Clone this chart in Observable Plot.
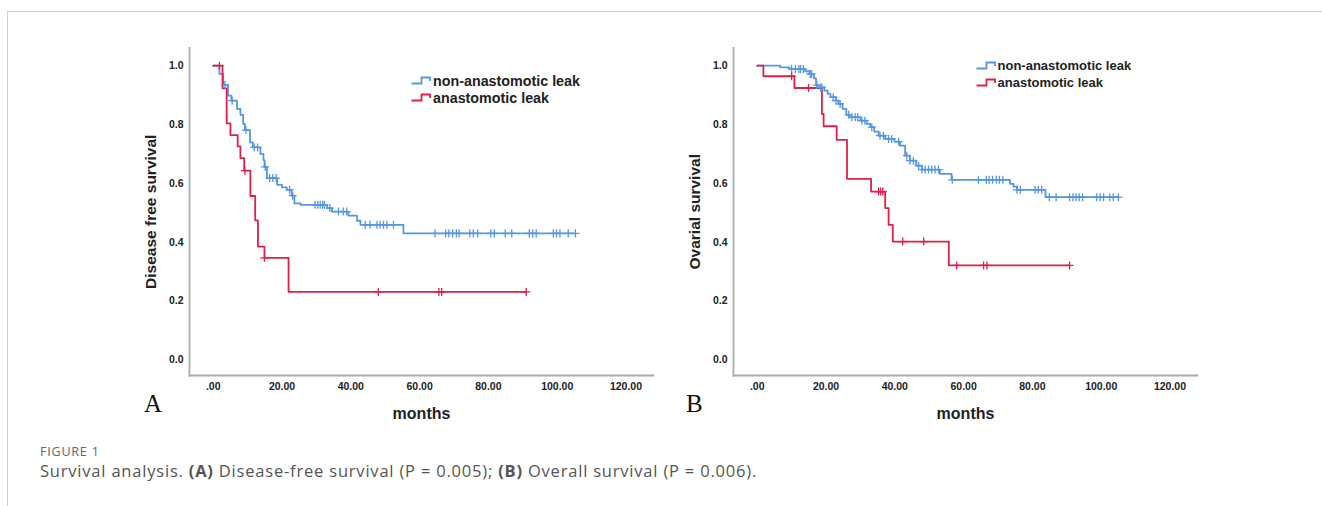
<!DOCTYPE html>
<html><head><meta charset="utf-8">
<script src="https://cdn.jsdelivr.net/npm/d3@7"></script>
<script src="https://cdn.jsdelivr.net/npm/@observablehq/plot@0.6"></script>
<style>
body{margin:0;background:#fff;}
#root{position:relative;width:1322px;height:506px;overflow:hidden;font-family:"Liberation Sans",Arial,sans-serif;}
#card{position:absolute;left:7px;top:11px;right:-2px;bottom:-2px;border-top:1px solid #cfcfcf;border-left:1px solid #cfcfcf;}
.panel{position:absolute;top:30px;}
.letter{position:absolute;font-family:"Liberation Serif","DejaVu Serif",serif;font-size:25px;color:#111;line-height:1;}
.legend{position:absolute;font-weight:bold;color:#222;font-family:"Liberation Sans",Arial,sans-serif;}
.legend div{display:flex;align-items:center;white-space:nowrap;}
.legend svg{margin-right:2px;flex:none;}
#fig{position:absolute;left:40px;top:443px;font-family:"Open Sans",sans-serif;font-size:12.5px;letter-spacing:0.8px;color:#666;}
#cap{position:absolute;left:40px;top:459px;font-family:"Open Sans",sans-serif;font-size:16.5px;letter-spacing:0.8px;color:#555;white-space:nowrap;}
</style></head>
<body>
<div id="root">
  <div id="card"></div>
  <div id="panelA" class="panel" style="left:95px"></div>
  <div id="panelB" class="panel" style="left:639px"></div>
  <div class="letter" style="left:144px;top:391px">A</div>
  <div class="letter" style="left:686px;top:391px">B</div>
  <div id="legendA" class="legend" style="left:411px;top:72.5px;font-size:14.3px"></div>
  <div id="legendB" class="legend" style="left:975.5px;top:57.5px;font-size:13px"></div>
  <div id="fig">FIGURE 1</div>
  <div id="cap">Survival analysis. <b>(A)</b> Disease-free survival (P = 0.005); <b>(B)</b> Overall survival (P = 0.006).</div>
</div>
<script>
// ---- categories / labels ----
const groups = ["non-anastomotic leak", "anastomotic leak"];
const groupColors = ["#5597e6", "#e0204a"];
const xTicks = [0, 20, 40, 60, 80, 100, 120];
const xTickLabels = [".00", "20.00", "40.00", "60.00", "80.00", "100.00", "120.00"];
const yTicks = [0, 0.2, 0.4, 0.6, 0.8, 1.0];
const yTickLabels = ["0.0", "0.2", "0.4", "0.6", "0.8", "1.0"];
const xDomain = [-6.9, 128];
const yDomain = [-0.053, 1.06];
const xTitle = "months";
const yTitleA = "Disease free survival";
const yTitleB = "Ovarial survival";

// ---- Panel A: disease-free survival ----
const dfsNonLeakTime = [0, 1.8, 2.9, 4.3, 5.3, 6.9, 7.9, 8.7, 9.2, 10.7, 11.5, 13.7, 14.6, 14.9, 15.6, 18.6, 20.0, 21.4, 22.8, 23.6, 25.4, 33.1, 34.5, 39.3, 41.8, 42.8, 55.3];
const dfsNonLeakSurv = [1, 0.972, 0.935, 0.898, 0.881, 0.853, 0.833, 0.802, 0.781, 0.739, 0.722, 0.700, 0.679, 0.656, 0.618, 0.595, 0.586, 0.578, 0.558, 0.532, 0.527, 0.516, 0.504, 0.490, 0.473, 0.459, 0.430];
const dfsNonLeakCensor = [3.4, 5.5, 9.5, 11.9, 12.9, 15.1, 16.4, 17.3, 18.3, 22.2, 23.1, 29.6, 30.4, 31.1, 31.8, 32.3, 33.9, 36.4, 37.8, 38.8, 44.2, 45.6, 47.6, 48.5, 49.5, 50.5, 52.4, 64.5, 67.6, 68.5, 69.6, 70.7, 71.5, 74.6, 75.6, 76.9, 80.7, 81.7, 84.9, 86.8, 91.9, 92.9, 93.9, 98.9, 99.8, 100.8, 103.2, 105.3];

const dfsLeakTime = [0, 2.7, 3.9, 5.0, 7.1, 7.9, 9.0, 10.8, 12.2, 13.0, 14.9, 21.9];
const dfsLeakSurv = [1, 0.923, 0.804, 0.764, 0.726, 0.686, 0.643, 0.557, 0.474, 0.385, 0.347, 0.231];
const dfsLeakCensor = [1.8, 9.2, 14.9, 48.0, 65.6, 66.4, 91.0];

// ---- Panel B: overall survival ----
const osNonLeakTime = [0, 6.7, 9.4, 13.9, 15.2, 16.5, 17.1, 17.8, 19.5, 20.5, 21.3, 22.9, 23.6, 24.8, 25.9, 26.9, 30.0, 31.8, 32.9, 34.0, 35.3, 37.2, 39.9, 41.5, 43.0, 44.4, 46.2, 47.9, 53.1, 56.5, 73.5, 74.5, 75.5, 83.8];
const osNonLeakSurv = [1, 0.994, 0.989, 0.981, 0.972, 0.957, 0.934, 0.926, 0.915, 0.904, 0.893, 0.881, 0.870, 0.853, 0.833, 0.825, 0.813, 0.802, 0.791, 0.776, 0.762, 0.751, 0.742, 0.728, 0.694, 0.677, 0.660, 0.647, 0.632, 0.612, 0.598, 0.589, 0.578, 0.553];
const osNonLeakCensor = [10.0, 11.1, 12.1, 12.6, 13.4, 15.4, 15.8, 17.3, 18.4, 18.8, 22.1, 22.9, 24.1, 26.6, 27.5, 28.5, 29.2, 30.4, 31.3, 33.3, 35.7, 36.7, 38.2, 39.1, 41.1, 43.5, 44.4, 45.4, 46.9, 47.9, 48.8, 49.8, 50.7, 51.7, 52.7, 56.7, 64.3, 66.6, 67.4, 68.4, 69.5, 70.4, 71.4, 75.5, 76.5, 80.8, 81.7, 82.7, 84.9, 86.9, 90.8, 91.8, 92.7, 93.6, 94.6, 98.7, 99.7, 100.7, 102.5, 103.5, 105.0];

const osLeakTime = [0, 1.8, 10.8, 18.8, 19.3, 23.1, 26.1, 33.1, 37.2, 38.2, 39.4, 55.7];
const osLeakSurv = [1, 0.964, 0.924, 0.836, 0.794, 0.748, 0.615, 0.572, 0.516, 0.459, 0.402, 0.321];
const osLeakCensor = [10.0, 14.9, 35.3, 35.9, 36.5, 42.3, 48.4, 58.0, 65.8, 66.8, 90.8];

// ---- helpers to build tables ----
function stepRows(group, times, surv, censor) {
  const end = Math.max(times[times.length - 1], d3.max(censor));
  const rows = times.map((t, i) => ({group, t, s: surv[i]}));
  rows.push({group, t: end, s: surv[surv.length - 1]});
  return rows;
}
function censorRows(group, times, surv, censor) {
  return censor.map(t => ({group, t, s: surv[d3.bisectRight(times, t) - 1]}));
}

const axisColor = "#ababab";

function panel(series, yTitle) {
  const steps = series.flatMap(d => stepRows(...d));
  const cens = series.flatMap(d => censorRows(...d));
  return Plot.plot({
    width: 580, height: 395,
    marginLeft: 94, marginRight: 22, marginTop: 17.5, marginBottom: 50,
    x: {domain: xDomain},
    y: {domain: yDomain},
    color: {domain: groups, range: groupColors},
    style: {fontFamily: "'Liberation Sans', Arial, sans-serif", fontSize: "10.5px", fontWeight: "bold", color: "#222", background: "transparent", overflow: "visible"},
    marks: [
      Plot.frame({anchor: "left", stroke: axisColor, strokeWidth: 1.8}),
      Plot.frame({anchor: "bottom", stroke: axisColor, strokeWidth: 1.8}),
      Plot.axisX({ticks: xTicks, tickFormat: d => xTickLabels[xTicks.indexOf(d)], tickSize: 0, tickPadding: 7, label: null}),
      Plot.axisY({ticks: yTicks, tickFormat: d => yTickLabels[yTicks.indexOf(d)], tickSize: 0, tickPadding: 6, label: null}),
      Plot.text([xTitle], {text: d => d, frameAnchor: "bottom", lineAnchor: "middle", textAnchor: "middle", dy: 38, fontSize: 16}),
      Plot.text([yTitle], {text: d => d, frameAnchor: "left", lineAnchor: "middle", textAnchor: "middle", rotate: -90, dx: -38, fontSize: 15.5}),
      Plot.line(steps, {x: "t", y: "s", z: "group", stroke: "group", curve: "step-after", strokeWidth: 1.8}),
      Plot.dot(cens, {x: "t", y: "s", stroke: "group", symbol: "plus", r: 2.7, strokeWidth: 1.3})
    ]
  });
}

document.getElementById("panelA").append(panel([
  [groups[0], dfsNonLeakTime, dfsNonLeakSurv, dfsNonLeakCensor],
  [groups[1], dfsLeakTime, dfsLeakSurv, dfsLeakCensor]
], yTitleA));

document.getElementById("panelB").append(panel([
  [groups[0], osNonLeakTime, osNonLeakSurv, osNonLeakCensor],
  [groups[1], osLeakTime, osLeakSurv, osLeakCensor]
], yTitleB));

function legend(el, rowH) {
  groups.forEach((g, i) => {
    const row = document.createElement("div");
    row.style.height = rowH + "px";
    row.innerHTML = `<svg width="20" height="12"><path d="M0.5,8.5H10.5V2.5H19V6" fill="none" stroke="${groupColors[i]}" stroke-width="1.8"/></svg><span>${g}</span>`;
    el.append(row);
  });
}
legend(document.getElementById("legendA"), 17);
legend(document.getElementById("legendB"), 16.7);
</script>
</body></html>
